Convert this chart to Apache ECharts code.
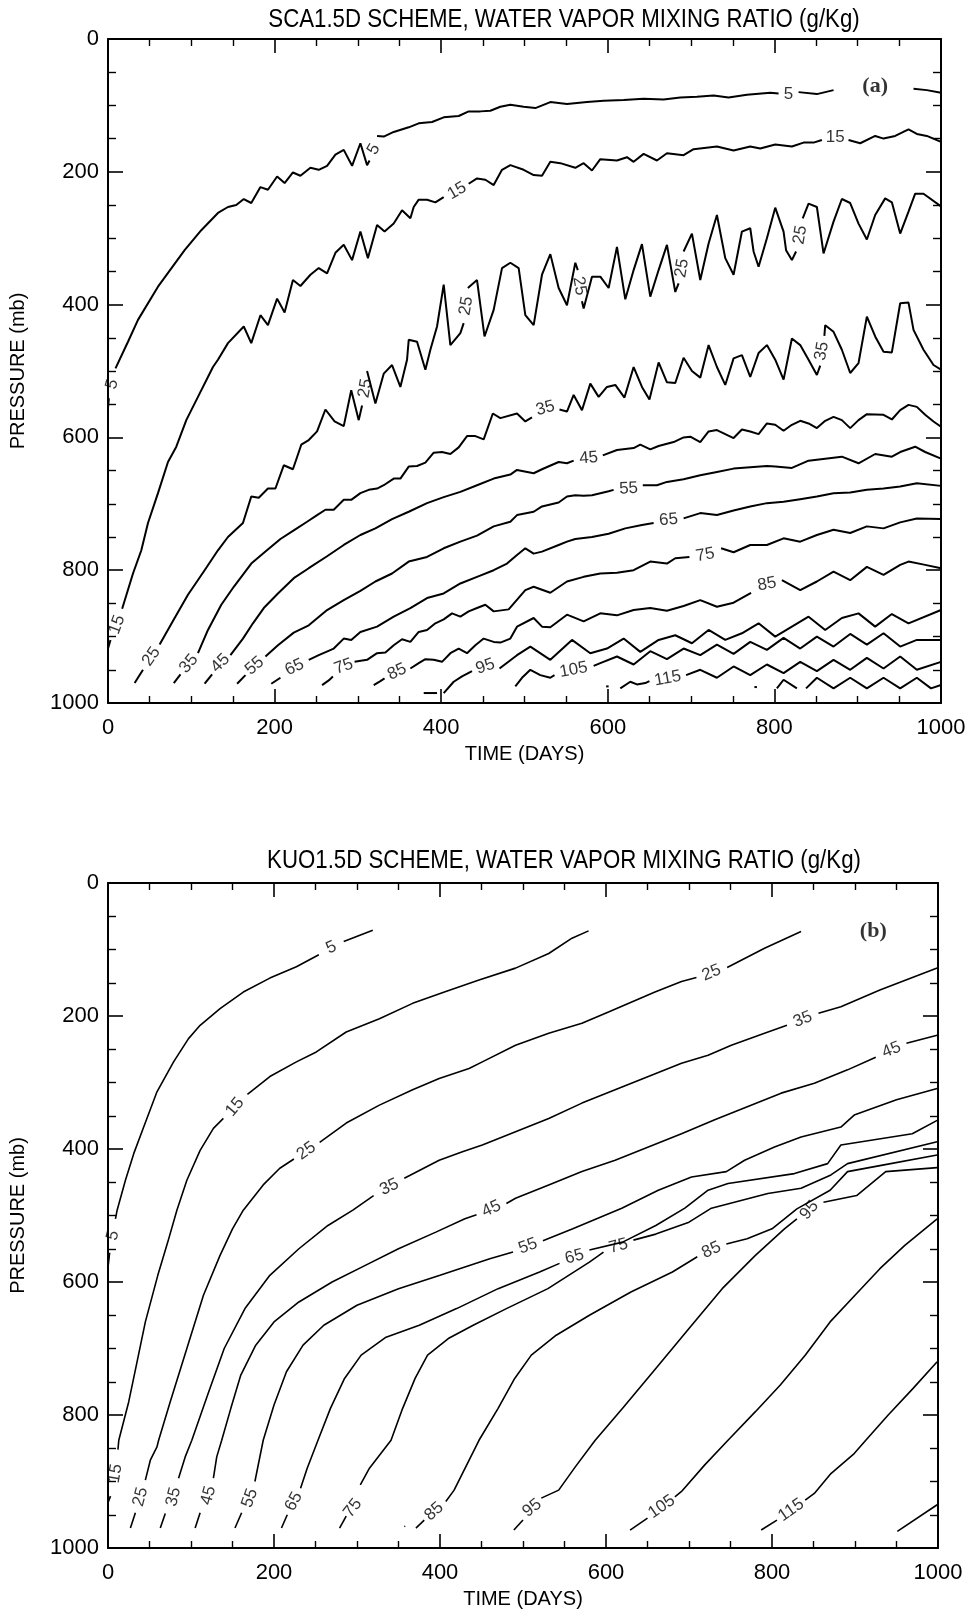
<!DOCTYPE html>
<html><head><meta charset="utf-8">
<script src="https://cdn.jsdelivr.net/npm/echarts@6/dist/echarts.min.js"></script>
<style>html,body{margin:0;padding:0;background:#fff}#c{width:970px;height:1614px}</style>
</head><body><div id="c"></div>
<script>
// ---------- texts ----------
const titleA = 'SCA1.5D SCHEME, WATER VAPOR MIXING RATIO (g/Kg)';
const titleB = 'KUO1.5D SCHEME, WATER VAPOR MIXING RATIO (g/Kg)';
const xName = 'TIME (DAYS)';
const yName = 'PRESSURE (mb)';
const xRange = [0, 1000];
const yRange = [0, 1000];
const tickStep = 200;

// ---------- panel (a) contours: [time, pressure] segments ----------
const A05 = [
 [[0,556],[1,541]],
 [[9,496],[24,456],[36,423],[60,373],[92,318],[112,288],[132,262],[144,253],[154,250],[163,241],[172,247],[183,223],[192,227],[203,207],[212,217],[222,201],[231,206],[243,194],[253,197],[263,191],[273,174],[283,167],[293,191],[303,157],[311,190],[314,183]],
 [[323,146],[331,147],[343,140],[361,133],[373,127],[389,125],[403,118],[421,116],[433,109],[447,109],[459,108],[471,102],[483,99],[499,102],[513,104],[531,95],[551,98],[575,95],[595,93],[619,92],[643,90],[667,91],[687,88],[707,87],[727,85],[745,88],[767,84],[795,81],[805,82]],
 [[829,80],[851,83],[871,77]],
 [[967,75],[983,77],[1000,81]]
];
const A15 = [
 [[0,918],[3,905]],
 [[17,858],[30,805],[40,770],[48,729],[60,684],[72,637],[82,614],[94,574],[108,539],[126,494],[132,483],[144,458],[163,433],[172,458],[183,416],[192,431],[203,391],[212,412],[222,363],[231,372],[243,355],[253,345],[263,353],[273,322],[283,310],[293,333],[303,290],[312,330],[323,280],[332,290],[343,278],[353,258],[363,270],[367,253],[373,242],[383,242],[393,246],[403,238]],
 [[433,218],[443,210],[453,212],[463,220],[473,197],[483,190],[499,197],[511,205],[521,206],[531,185],[543,187],[561,194],[571,187],[581,198],[591,181],[611,183],[623,178],[631,185],[643,173],[659,183],[671,172],[691,175],[703,166],[731,162],[751,168],[771,162],[783,165],[801,159],[821,162],[835,156],[847,156],[857,152]],
 [[889,152],[903,157],[921,146],[931,150],[945,146],[961,136],[971,143],[983,146],[1000,155]]
];
const A25 = [
 [[32,970],[42,950]],
 [[62,912],[80,872],[96,837],[116,800],[132,770],[144,750],[162,729],[172,689],[181,691],[192,677],[201,677],[211,642],[222,648],[232,611],[241,604],[251,591],[261,558],[272,576],[283,583],[292,529],[301,574],[305,552]],
 [[311,500],[321,549],[331,504],[341,491],[351,524],[359,483],[361,453],[371,456],[381,498],[387,468],[395,433],[403,370],[411,461],[423,443],[427,428]],
 [[432,375],[443,363],[452,448],[463,408],[473,345],[483,337],[493,345],[501,416],[511,431],[521,355],[531,324],[541,375],[551,401],[561,337],[564,348]],
 [[569,395],[571,406],[581,358],[591,358],[601,375],[611,313],[621,392],[631,348],[641,309],[651,388],[661,348],[671,310],[681,381],[685,368]],
 [[691,320],[701,293],[711,363],[721,308],[731,265],[741,330],[751,355],[761,290],[771,285],[775,320],[781,343],[791,300],[801,254],[811,290],[814,318],[821,333],[826,320]],
 [[834,270],[841,248],[851,253],[859,323],[871,275],[881,241],[891,247],[901,278],[911,302],[921,265],[933,240],[941,246],[951,293],[961,260],[969,233],[979,233],[1000,252]]
];
const A35 = [
 [[79,970],[87,957]],
 [[108,925],[120,890],[136,852],[151,825],[172,790],[189,772],[207,753],[223,740],[239,727],[251,717],[261,709],[271,709],[283,694],[292,694],[303,684],[313,679],[323,677],[331,672],[343,662],[351,662],[361,644],[371,643],[381,638],[391,623],[401,622],[411,625],[421,615],[431,598],[441,598],[451,603],[462,564],[471,571],[491,564],[501,576],[509,570]],
 [[542,558],[551,561],[559,536],[569,559],[579,519],[589,539],[599,524],[609,521],[620,540],[631,494],[641,524],[650,543],[661,487],[671,517],[681,518],[691,480],[701,500],[711,510],[721,461],[731,494],[741,521],[751,481],[761,476],[771,509],[781,473],[791,461],[801,483],[811,513],[821,451],[831,461],[841,483],[851,506],[855,492]],
 [[860,447],[861,431],[871,441],[881,468],[891,503],[901,488],[911,418],[921,448],[931,471],[941,472],[951,398],[961,397],[967,438],[979,468],[991,491],[1000,498]]
];
const A45 = [
 [[116,971],[125,957]],
 [[147,928],[162,903],[174,880],[187,857],[204,835],[223,812],[241,797],[263,779],[283,762],[303,747],[321,737],[341,723],[361,712],[383,699],[403,690],[423,682],[443,672],[463,662],[483,656],[491,649],[511,654],[521,648],[541,637],[551,639],[559,635]],
 [[594,627],[611,619],[631,616],[639,611],[651,618],[661,613],[679,607],[691,600],[699,599],[711,607],[721,591],[731,589],[751,601],[761,588],[771,591],[781,595],[791,579],[801,581],[811,590],[821,581],[831,575],[841,579],[851,586],[861,575],[871,569],[881,574],[891,586],[901,574],[911,565],[931,566],[941,573],[951,559],[961,551],[971,554],[981,566],[991,576],[1000,584]]
];
const A55 = [
 [[155,971],[165,958]],
 [[189,930],[204,913],[223,894],[241,883],[263,860],[283,845],[303,831],[321,817],[341,805],[361,787],[383,780],[403,767],[423,757],[443,748],[463,734],[483,727],[491,717],[511,712],[521,704],[541,698],[551,689],[561,687],[571,688],[581,687],[601,681],[607,679]],
 [[642,672],[659,672],[671,667],[691,663],[711,657],[731,652],[751,647],[771,645],[791,643],[801,644],[821,646],[841,635],[861,632],[881,629],[901,639],[921,625],[941,629],[951,622],[969,614],[981,622],[1000,632]]
];
const A65 = [
 [[196,971],[207,962]],
 [[241,935],[253,928],[271,918],[283,903],[292,905],[303,893],[323,885],[343,870],[363,857],[383,842],[403,835],[423,820],[443,810],[463,800],[479,790],[491,777],[501,767],[511,775],[521,772],[541,762],[551,757],[561,753],[581,750],[601,745],[621,737],[641,732],[655,729]],
 [[691,722],[711,714],[731,717],[751,710],[771,704],[791,699],[811,697],[831,693],[851,689],[871,684],[891,683],[911,679],[931,677],[951,674],[971,669],[1000,673]]
];
const A75 = [
 [[257,973],[265,966],[270,960]],
 [[296,938],[311,935],[323,925],[333,924],[343,913],[353,904],[363,908],[373,893],[383,890],[393,880],[403,874],[413,865],[423,870],[433,862],[443,857],[453,852],[463,862],[481,859],[501,830],[511,825],[531,834],[551,817],[571,810],[591,805],[611,804],[631,800],[651,787],[671,790],[681,782],[698,780]],
 [[736,767],[751,773],[771,762],[791,762],[811,752],[831,757],[851,747],[871,739],[891,744],[911,734],[931,737],[951,728],[971,722],[1000,723]]
];
const A85 = [
 [[319,973],[327,967],[332,963]],
 [[363,948],[373,940],[381,934],[391,935],[401,938],[411,925],[421,918],[431,925],[441,913],[451,903],[463,908],[471,909],[483,903],[491,885],[511,872],[521,885],[531,886],[551,867],[571,877],[591,865],[611,868],[631,860],[651,857],[671,861],[691,854],[711,845],[731,855],[751,849],[772,834]],
 [[809,815],[831,830],[851,817],[871,802],[891,815],[911,795],[931,807],[951,792],[961,787],[981,792],[1000,797]]
];
const A95 = [
 [[379,985],[395,985]],
 [[403,985],[415,968],[425,960],[437,952]],
 [[470,948],[491,928],[507,915],[531,935],[557,905],[579,925],[599,918],[619,903],[639,923],[661,905],[681,898],[701,910],[721,890],[741,905],[761,895],[781,880],[801,900],[821,885],[841,870],[861,890],[881,872],[901,865],[921,885],[941,866],[961,880],[1000,860]]
];
const A105 = [
 [[489,975],[497,962],[507,950],[519,958],[531,962],[536,958]],
 [[583,944],[591,940],[611,930],[631,942],[651,922],[671,934],[691,918],[711,928],[731,912],[751,926],[771,908],[791,920],[811,902],[831,918],[851,900],[871,915],[891,896],[911,912],[931,895],[951,915],[971,905],[1000,905]]
];
const A115 = [
 [[598,975],[601,975]],
 [[615,978],[627,968],[635,972],[645,970],[650,967]],
 [[694,958],[711,950],[731,962],[751,945],[771,958],[791,942],[811,955],[831,938],[851,952],[871,935],[891,950],[911,932],[931,948],[951,930],[971,950],[1000,938]]
];
const A125 = [
 [[776,976],[779,976]],
 [[803,978],[811,965],[827,978]],
 [[838,978],[851,962],[871,978],[891,962],[911,978],[931,962],[951,978],[971,962],[988,978],[1000,973]]
];
const labelsA = [
 [5,520,'5'],[319,166,'5'],[817,84,'5'],
 [11,882,'15'],[419,229,'15'],[873,148,'15'],
 [52,930,'25'],[309,526,'25'],[430,402,'25'],[566,372,'25'],[689,345,'25'],[831,295,'25'],
 [97,941,'35'],[525,556,'35'],[857,470,'35'],
 [135,940,'45'],[577,631,'45'],
 [176,944,'55'],[625,677,'55'],
 [224,946,'65'],[673,724,'65'],
 [283,945,'75'],[717,777,'75'],
 [347,953,'85'],[791,821,'85'],
 [453,945,'95'],
 [559,950,'105'],
 [672,963,'115']
];
const rotA = [75,60,0, 70,30,0, 55,80,80,-80,80,80, 50,15,80, 45,5, 40,3, 25,5, 20,10, 25,10, 20, 10, 10];

// ---------- panel (b) contours ----------
const B05 = [
 [[0,578],[2,556]],
 [[9,505],[11,492],[21,447],[31,407],[43,367],[59,314],[79,269],[97,234],[111,214],[135,189],[163,164],[195,143],[227,126],[254,108]],
 [[284,88],[319,71]]
];
const B15 = [
 [[0,932],[3,922]],
 [[12,852],[13,838],[25,780],[35,720],[45,660],[60,590],[72,540],[83,492],[95,447],[111,402],[127,369],[139,354]],
 [[168,318],[195,291],[227,269],[251,254],[287,224],[327,204],[367,181],[407,163],[447,146],[491,128],[531,106],[559,83],[579,72]]
];
const B25 = [
 [[27,970],[33,947]],
 [[45,898],[51,868],[59,848],[61,838],[75,780],[95,700],[115,620],[135,560],[150,520],[163,492],[187,454],[207,429],[224,415]],
 [[255,390],[287,361],[327,334],[367,311],[399,294],[435,279],[451,269],[491,244],[531,226],[571,211],[603,194],[631,179],[659,164],[691,148],[709,142]],
 [[746,127],[791,98],[835,73]]
];
const B35 = [
 [[63,970],[69,948]],
 [[85,895],[93,863],[101,838],[120,770],[140,700],[165,640],[195,590],[230,550],[265,515],[295,492],[320,470]],
 [[357,444],[399,417],[427,404],[451,394],[491,374],[531,354],[571,331],[611,311],[651,291],[691,271],[723,259],[751,244],[791,226],[818,214]],
 [[856,196],[883,186],[930,161],[999,128]]
];
const B45 = [
 [[105,970],[111,947]],
 [[127,895],[131,863],[137,838],[148,790],[160,740],[178,695],[200,660],[230,630],[270,600],[310,575],[350,550],[395,525],[430,505],[444,499]],
 [[480,482],[491,474],[531,454],[571,434],[611,417],[651,397],[691,377],[731,356],[771,336],[811,316],[851,301],[891,281],[925,262]],
 [[962,241],[999,229]]
];
const B55 = [
 [[153,970],[161,947]],
 [[177,900],[187,838],[200,785],[215,735],[235,695],[260,665],[300,635],[350,610],[400,590],[460,565],[488,555]],
 [[524,538],[560,520],[619,489],[663,462],[703,442],[745,434],[767,417],[803,397],[835,382],[883,367],[899,349],[950,326],[999,309]]
];
const B65 = [
 [[209,970],[216,950]],
 [[232,910],[240,880],[253,838],[268,790],[285,745],[305,710],[335,683],[375,665],[420,640],[470,610],[520,585],[544,572]],
 [[580,552],[620,540],[660,515],[695,489],[723,462],[747,452],[827,437],[867,422],[883,394],[969,377],[999,357]]
];
const B75 = [
 [[279,970],[287,952]],
 [[304,905],[315,880],[341,838],[355,790],[370,745],[385,710],[410,685],[440,665],[480,640],[530,610],[580,570],[597,555]],
 [[633,537],[660,528],[700,510],[727,489],[795,467],[835,459],[871,439],[891,422],[999,389]]
];
const B85 = [
 [[357,968],[358,967]],
 [[371,970],[381,958]],
 [[407,930],[417,913],[447,838],[470,790],[490,745],[510,710],[540,680],[580,650],[630,615],[680,585],[710,562]],
 [[745,543],[770,535],[800,520],[830,490],[870,462],[891,434],[930,425],[999,409]]
];
const B95 = [
 [[489,973],[500,958]],
 [[522,925],[543,913],[563,878],[587,838],[620,790],[660,730],[700,670],[740,610],[780,560],[815,520],[830,505]],
 [[862,480],[902,470],[937,434],[999,428]]
];
const B105 = [
 [[629,973],[650,955]],
 [[683,923],[691,915],[719,875],[747,838],[780,795],[810,755],[840,710],[870,660],[900,620],[930,580],[960,545],[999,505]]
];
const B115 = [
 [[787,973],[806,958]],
 [[840,928],[851,918],[871,888],[899,858],[913,838],[940,800],[970,760],[999,720]]
];
const B125 = [
 [[951,975],[999,935]]
];
const labelsB = [
 [6,530,'5'],[269,97,'5'],
 [9,888,'15'],[153,337,'15'],
 [39,923,'25'],[239,403,'25'],[727,135,'25'],
 [79,923,'35'],[339,457,'35'],[837,205,'35'],
 [121,921,'45'],[462,490,'45'],[944,251,'45'],
 [171,925,'55'],[506,546,'55'],
 [224,930,'65'],[562,562,'65'],
 [295,940,'75'],[615,546,'75'],
 [393,945,'85'],[727,552,'85'],
 [511,940,'95'],[845,492,'95'],
 [667,938,'105'],
 [823,943,'115']
];
const rotB = [75,25, 80,50, 75,35,22, 75,25,22, 75,25,22, 70,20, 62,15, 52,15, 42,25, 38,50, 35, 35];

const panelTags = ['(a)', '(b)'];
const tagPos = [[921,72],[922,73]];

// ---------- build ----------
const chart = echarts.init(document.getElementById('c'), null, {renderer:'canvas'});
const FONT = 'Liberation Sans';
const grids = [
  {left:107, top:39, width:834, height:664},
  {left:104, top:883, width:834, height:665}
];
function xAx(gi, pos){
  return {gridIndex:gi, type:'value', position:pos, min:xRange[0], max:xRange[1], interval:tickStep,
    name: pos==='bottom'?xName:'', nameLocation:'middle', nameGap:41,
    nameTextStyle:{fontFamily:FONT, fontSize:20, color:'#000'},
    axisLine:{show:true, onZero:false, lineStyle:{color:'#000', width:2}},
    axisTick:{show:true, inside:true, length:14, lineStyle:{color:'#000', width:1.6}},
    minorTick:{show:true, splitNumber:4, length:7, lineStyle:{color:'#000', width:1.4}},
    axisLabel:{show:pos==='bottom', margin:14, fontFamily:FONT, fontSize:22, color:'#000', formatter: v => String(v)},
    splitLine:{show:false}};
}
function yAx(gi, pos){
  return {gridIndex:gi, type:'value', position:pos, inverse:true, min:yRange[0], max:yRange[1], interval:tickStep,
    name: pos==='left'?yName:'', nameLocation:'middle', nameGap:80,
    nameTextStyle:{fontFamily:FONT, fontSize:20, color:'#000'},
    axisLine:{show:true, onZero:false, lineStyle:{color:'#000', width:2}},
    axisTick:{show:true, inside:true, length:15, lineStyle:{color:'#000', width:1.6}},
    minorTick:{show:true, splitNumber:4, length:8, lineStyle:{color:'#000', width:1.4}},
    axisLabel:{show:pos==='left', margin:9, fontFamily:FONT, fontSize:22, color:'#000', formatter: v => String(v)},
    splitLine:{show:false}};
}
const series = [];
function addContours(list, gi, w){
  list.forEach(c => c.forEach(seg => series.push({
    type:'line', xAxisIndex:gi*2, yAxisIndex:gi*2, data:seg, symbol:'none', showSymbol:false,
    lineStyle:{color:'#000', width:w}, silent:true, animation:false, z:3
  })));
}
addContours([A05,A15,A25,A35,A45,A55,A65,A75,A85,A95,A105,A115,A125], 0, 2);
addContours([B05,B15,B25,B35,B45,B55,B65,B75,B85,B95,B105,B115,B125], 1, 1.6);
function addLabels(lbls, rots, gi){
  series.push({type:'scatter', xAxisIndex:gi*2, yAxisIndex:gi*2, symbolSize:1, silent:true, animation:false,
    itemStyle:{color:'rgba(0,0,0,0)'}, z:5,
    data: lbls.map((l,i)=>({value:[l[0],l[1]], label:{show:true, position:'inside', formatter:l[2], rotate:rots[i],
      fontFamily:FONT, fontSize:17, color:'#000'}}))});
}
addLabels(labelsA, rotA, 0);
addLabels(labelsB, rotB, 1);
panelTags.forEach((t,gi)=>{
  series.push({type:'scatter', xAxisIndex:gi*2, yAxisIndex:gi*2, symbolSize:1, silent:true, animation:false,
    itemStyle:{color:'rgba(0,0,0,0)'},
    data:[{value:tagPos[gi], label:{show:true, position:'inside', formatter:t, fontFamily:'Liberation Serif', fontWeight:'bold', fontSize:22, color:'#000'}}]});
});
chart.setOption({
  animation:false,
  backgroundColor:'#fff',
  grid: grids,
  xAxis:[xAx(0,'bottom'), xAx(0,'top'), xAx(1,'bottom'), xAx(1,'top')],
  yAxis:[yAx(0,'left'), yAx(0,'right'), yAx(1,'left'), yAx(1,'right')],
  graphic:[
    {type:'text', x:564, y:20, scaleX:0.89, style:{text:titleA, fontFamily:FONT, fontSize:25, fill:'#000', textAlign:'center', textVerticalAlign:'middle'}},
    {type:'text', x:564, y:861, scaleX:0.89, style:{text:titleB, fontFamily:FONT, fontSize:25, fill:'#000', textAlign:'center', textVerticalAlign:'middle'}}
  ],
  series: series
});
</script></body></html>
